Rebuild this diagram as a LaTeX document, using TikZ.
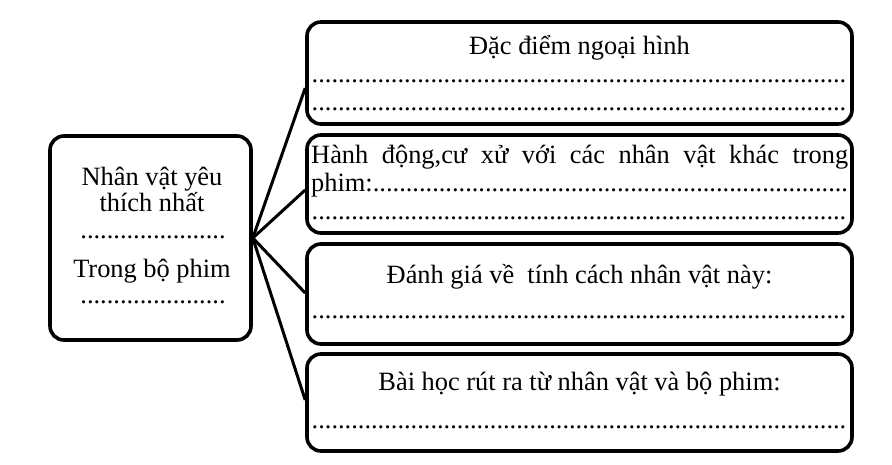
\documentclass[tikz,border=0pt]{standalone}
\usepackage{fontspec}
\setmainfont{Liberation Serif}
\newcommand\dotrow[1]{\hbox to #1{\cleaders\hbox{.}\hfill}}
\begin{document}
\begin{tikzpicture}[x=1pt,y=-1pt,
  box/.style={draw, line width=3.6pt, rounded corners=14pt, inner sep=0pt},
  conn/.style={line width=3pt},
  txt/.style={inner sep=0pt, font=\fontsize{26.4pt}{30pt}\selectfont}]
\useasboundingbox (0,0) rectangle (892,464);
% boxes
\node[box, minimum width=201pt, minimum height=204pt] (main) at (150.5,238) {};
\node[box, minimum width=545pt, minimum height=102pt] (b1) at (579.5,73) {};
\node[box, minimum width=545pt, minimum height=98pt] (b2) at (579.5,184) {};
\node[box, minimum width=545pt, minimum height=100pt] (b3) at (579.5,294) {};
\node[box, minimum width=545pt, minimum height=97pt] (b4) at (579.5,402.5) {};
% connectors
\draw[conn] (main.east) -- ([yshift=-15pt]b1.west);
\draw[conn] (main.east) -- ([yshift=-6pt]b2.west);
\draw[conn] (main.east) -- ([yshift=1pt]b3.west);
\draw[conn] (main.east) -- ([yshift=2.5pt]b4.west);
% left box text
\node[txt, anchor=base] (m1) at (152,185) {Nhân vật yêu};
\node[txt, anchor=base] (m2) at (152,211) {thích nhất};
\node[txt, anchor=base] (m3) at (153,238) {\dotrow{150pt}};
\node[txt, anchor=base] (m4) at (152,277) {Trong bộ phim};
\node[txt, anchor=base] (m5) at (153,303) {\dotrow{150pt}};
% box 1
\node[txt, anchor=base] (t1) at (579.5,54) {Đặc điểm ngoại hình};
\node[txt, anchor=base] (t1a) at (579,82) {\dotrow{536pt}};
\node[txt, anchor=base] (t1b) at (579,110) {\dotrow{536pt}};
% box 2
\node[txt, anchor=base west] (t2) at (311,163) {\hbox to 537pt{Hành\hfill động,cư\hfill xử\hfill với\hfill các\hfill nhân\hfill vật\hfill khác\hfill trong}};
\node[txt, anchor=base west] (t2a) at (311,191) {\hbox to 537pt{phim:\cleaders\hbox{.}\hfill}};
\node[txt, anchor=base] (t2b) at (579,219) {\dotrow{536pt}};
% box 3
\node[txt, anchor=base] (t3) at (579.5,283) {Đánh giá về\ \ tính cách nhân vật này:};
\node[txt, anchor=base] (t3a) at (579,318) {\dotrow{536pt}};
% box 4
\node[txt, anchor=base] (t4) at (579.5,390) {Bài học rút ra từ nhân vật và bộ phim:};
\node[txt, anchor=base] (t4a) at (579,428) {\dotrow{536pt}};
\end{tikzpicture}
\end{document}
